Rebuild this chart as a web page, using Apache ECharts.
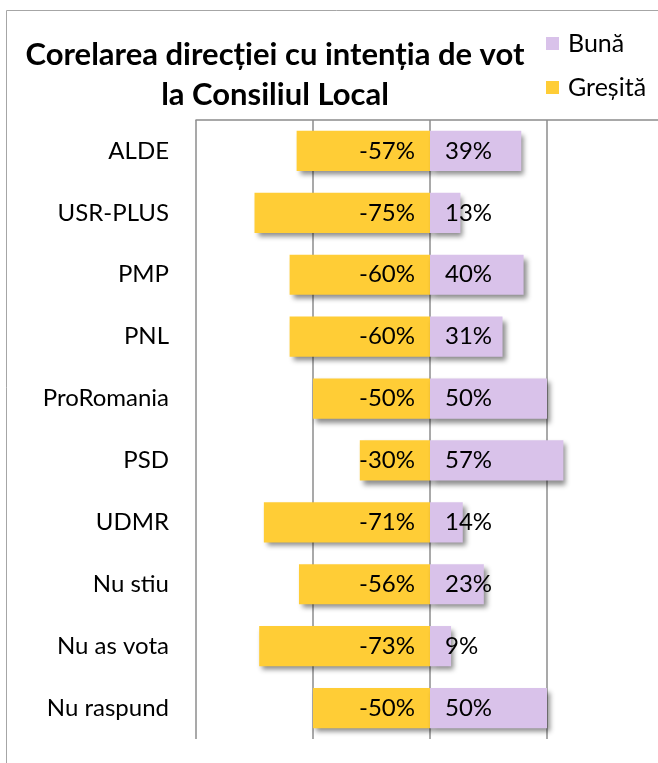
<!DOCTYPE html>
<html>
<head>
<meta charset="utf-8">
<style>
  html, body { margin: 0; padding: 0; background: #fff; overflow: hidden; }
  /* the plot runs a few pixels past the right edge of the picture, as in the original */
  #chart { width: 666px; height: 763px; }
</style>
<script src="https://cdn.jsdelivr.net/npm/echarts@6/dist/echarts.min.js"></script>
</head>
<body>
<div id="chart"></div>
<script>
// categories, top to bottom
const categories = ['ALDE', 'USR-PLUS', 'PMP', 'PNL', 'ProRomania', 'PSD', 'UDMR', 'Nu stiu', 'Nu as vota', 'Nu raspund']
// Greșită (negative side) and Bună (positive side), in %
const gresita = [-57, -75, -60, -60, -50, -30, -71, -56, -73, -50]
const buna = [39, 13, 40, 31, 50, 57, 14, 23, 9, 50]

const FONT = 'Lato'
const chart = echarts.init(document.getElementById('chart'))

const barShadow = {
  shadowColor: 'rgba(0, 0, 0, 0.45)',
  shadowBlur: 5,
  shadowOffsetX: 3,
  shadowOffsetY: 4,
}

chart.setOption({
  animation: false,
  textStyle: { fontFamily: FONT },
  title: {
    text: 'Corelarea direcției cu intenția de vot\nla Consiliul Local',
    left: 270,
    top: 30,
    textAlign: 'center',
    textStyle: {
      fontFamily: FONT,
      fontWeight: 'bold',
      fontSize: 31,
      lineHeight: 40,
      color: '#000',
    },
  },
  legend: {
    orient: 'vertical',
    left: 541,
    top: 26,
    itemWidth: 13,
    itemHeight: 13,
    itemGap: 19,
    icon: 'rect',
    textStyle: { fontFamily: FONT, fontSize: 25, color: '#000', padding: [0, 0, 0, 4] },
    data: ['Bună', 'Greșită'],
  },
  graphic: [
    {
      type: 'rect',
      silent: true,
      shape: { x: 6.5, y: 10.5, width: 720, height: 800 },
      style: { fill: 'none', stroke: '#a6a6a6', lineWidth: 1 },
    },
  ],
  grid: {
    left: 196,
    right: 2,
    top: 120,
    bottom: 24,
  },
  xAxis: {
    type: 'value',
    position: 'top',
    min: -100,
    max: 100,
    interval: 50,
    axisLine: { show: true, lineStyle: { color: '#8c8c8c', width: 1.5 } },
    axisTick: { show: false },
    axisLabel: { show: false },
    splitLine: { show: true, lineStyle: { color: '#8c8c8c', width: 1.5 } },
  },
  yAxis: {
    type: 'category',
    inverse: true,
    data: categories,
    axisLine: { show: false },
    axisTick: { show: false },
    axisLabel: {
      margin: 27,
      fontFamily: FONT,
      fontSize: 24,
      color: '#000',
    },
  },
  series: [
    {
      name: 'Greșită',
      type: 'bar',
      stack: 'total',
      barCategoryGap: '35%',
      data: gresita,
      itemStyle: Object.assign({ color: '#FFCD36' }, barShadow),
      label: {
        show: true,
        position: 'insideRight',
        distance: 15,
        formatter: (p) => p.value + '%',
        fontFamily: FONT,
        fontSize: 24,
        color: '#000',
      },
    },
    {
      name: 'Bună',
      type: 'bar',
      stack: 'total',
      barCategoryGap: '35%',
      data: buna,
      itemStyle: Object.assign({ color: '#D9C2EA' }, barShadow),
      label: {
        show: true,
        position: 'insideLeft',
        distance: 15,
        formatter: (p) => p.value + '%',
        fontFamily: FONT,
        fontSize: 24,
        color: '#000',
      },
    },
  ],
})
</script>
</body>
</html>
